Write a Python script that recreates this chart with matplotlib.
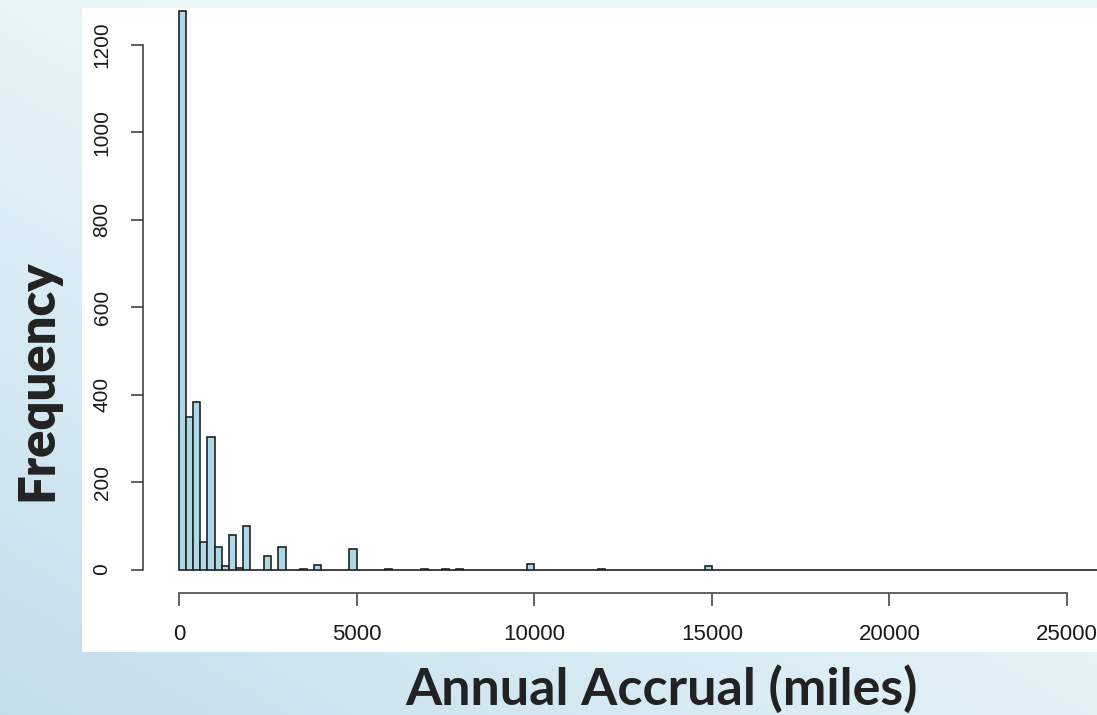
import numpy as np
import matplotlib
matplotlib.use("Agg")
import matplotlib.pyplot as plt
from matplotlib.patches import Rectangle

# histogram data: 200-mile bins, counts
bin_width = 200
bin_edges = np.arange(0, 26400 + bin_width, bin_width)
nonzero_bins = [0, 1, 2, 3, 4, 5, 6, 7, 8, 9, 12, 14, 17, 19, 24, 29, 34, 37, 39, 49, 59, 74]
nonzero_counts = [1278, 350, 383, 64, 303, 51, 7, 80, 4, 100, 31, 51, 2, 11, 47, 2, 2, 2, 2, 13, 2, 8]
x_ticks = [0, 5000, 10000, 15000, 20000, 25000]
y_ticks = [0, 200, 400, 600, 800, 1000, 1200]

counts = np.zeros(len(bin_edges) - 1)
counts[nonzero_bins] = nonzero_counts

W, H = 1097, 715
fig = plt.figure(figsize=(W / 100, H / 100), dpi=100)

# slide background gradient
bg = fig.add_axes([0, 0, 1, 1], zorder=-10)
u = np.linspace(0, 1, 300)[None, :]
v = np.linspace(1, 0, 200)[:, None]
t = np.clip(0.8 * u + 0.9 * v, 0, 1)
dark = np.array([0.76, 0.87, 0.92])
light = np.array([0.92, 0.965, 0.98])
img = dark[None, None, :] * (1 - t[..., None]) + light[None, None, :] * t[..., None]
bg.imshow(img, aspect="auto", extent=[0, 1, 0, 1], interpolation="bicubic")
bg.set_xlim(0, 1)
bg.set_ylim(0, 1)
bg.axis("off")

# white plot image pasted on the slide
fig.patches.append(Rectangle((82 / W, 1 - 652 / H), (W - 82) / W, (652 - 8) / H,
                             transform=fig.transFigure, facecolor="white",
                             edgecolor="none", zorder=-5))

# main axes, placed to match R's layout
left_px, right_px = 143, W
top_px, bottom_px = 8, 592.7
ax = fig.add_axes([left_px / W, 1 - bottom_px / H, (right_px - left_px) / W, (bottom_px - top_px) / H])
ax.patch.set_alpha(0)

px_per_mile = (1067 - 179) / 25000
px_per_count = (569.5 - 45) / 1200
ax.set_xlim((left_px - 179) / px_per_mile, (right_px - 179) / px_per_mile)
ax.set_ylim(-(bottom_px - 569.5) / px_per_count, (569.5 - top_px) / px_per_count)

ax.bar(bin_edges[:-1], counts, width=bin_width, align="edge",
       color="#add8e6", edgecolor="#222222", linewidth=1.2, clip_on=False)

for s in ["top", "right"]:
    ax.spines[s].set_visible(False)
ax.spines["left"].set_bounds(0, 1200)
ax.spines["bottom"].set_bounds(0, 25000)
ax.spines["left"].set_color("#333333")
ax.spines["bottom"].set_color("#555555")
ax.spines["left"].set_linewidth(1.1)
ax.spines["bottom"].set_linewidth(1.3)

ax.set_xticks(x_ticks)
ax.set_xticklabels([str(x) for x in x_ticks])
ax.set_yticks(y_ticks)
ax.set_yticklabels([str(y) for y in y_ticks], rotation=90, va="center")
ax.tick_params(axis="x", length=9.4, width=1.3, color="#555555", pad=13,
               labelsize=16, labelcolor="#1a1a1a")
ax.tick_params(axis="y", length=8.6, width=1.1, color="#333333", pad=14,
               labelsize=15, labelcolor="#1a1a1a")
for lab in ax.get_xticklabels() + ax.get_yticklabels():
    lab.set_fontfamily("Liberation Sans")

fig.text(37.5 / W, 1 - 380.7 / H, "Frequency", rotation=90, ha="center", va="center",
         fontsize=36.5, fontweight="heavy", family=["Lato", "DejaVu Sans"], color="#222222")
fig.text(661 / W, 1 - 705 / H, "Annual Accrual (miles)", ha="center", va="baseline",
         fontsize=37.5, fontweight="bold", family=["Lato", "DejaVu Sans"], color="#222222")

fig.savefig("out.png", dpi=100)
